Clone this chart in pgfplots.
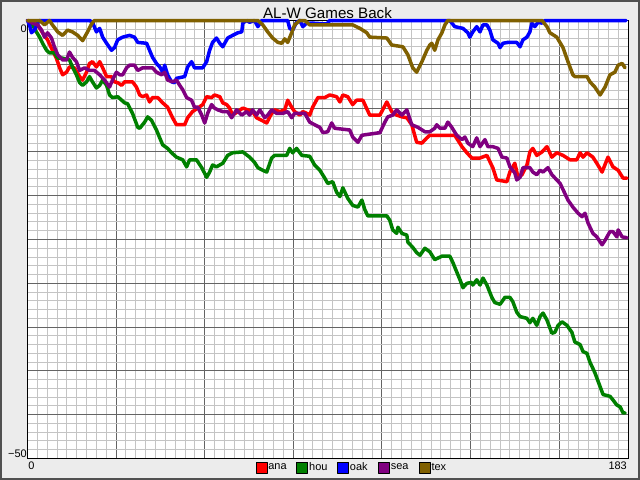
\documentclass[border=0pt]{standalone}
\usepackage{fontspec}
\setmainfont{Liberation Sans}
\usepackage{pgfplots}
\pgfplotsset{compat=1.18}
\definecolor{bgc}{RGB}{236,236,236}
\definecolor{frm}{RGB}{80,80,80}
\definecolor{majg}{RGB}{100,100,100}
\definecolor{ming}{RGB}{196,196,196}
\definecolor{cana}{RGB}{255,0,0}
\definecolor{chou}{RGB}{0,128,0}
\definecolor{coak}{RGB}{0,0,255}
\definecolor{csea}{RGB}{128,0,128}
\definecolor{ctex}{RGB}{128,96,0}
\pgfplotsset{sq/.style={legend image code/.code={\filldraw[fill=#1,draw=black,line width=0.8bp] (0bp,-5.5bp) rectangle (11bp,5.5bp);}}}
\begin{document}
\begin{tikzpicture}
\fill[bgc] (-27.5bp,-21.5bp) rectangle (612.5bp,458.5bp);
\draw[frm,line width=2bp] (-26.5bp,-20.5bp) rectangle (611.5bp,457.5bp);
\begin{axis}[
 at={(0,0)}, anchor=south west,
 scale only axis, width=600.5bp, height=438bp,
 xmin=0, xmax=183, ymin=-50, ymax=0,
 axis background/.style={fill=white},
 xtick={27,54,...,162}, ytick={-45,-40,...,-5},
 minor xtick={3,6,...,180}, minor ytick={-49,-48,...,-1},
 xticklabels={}, yticklabels={},
 major tick length=0pt, minor tick length=0pt,
 grid=both,
 major grid style={majg, line width=1bp},
 minor grid style={ming, line width=1bp},
 axis line style={black, line width=1bp},
 clip=false,
 legend columns=5,
 legend style={draw=none, fill=none, at={(rel axis cs:0.3795,-0.0205)}, anchor=west,
   font=\fontsize{11}{13}\selectfont, inner sep=0pt,
   nodes={inner sep=1bp},
   /tikz/every even column/.append style={column sep=0bp}},
 every axis plot/.append style={line width=3.5bp, line join=round, line cap=round},
]
\addplot[cana, sq=cana] coordinates {
(0,0)(1.5,-0.3)(3.1,-0.5)(4.6,-1.4)(6.1,-2.2)(7.6,-3.4)(8.8,-4.3)(9.8,-5.4)(10.7,-6.2)(11.9,-5.9)(12.8,-5.3)(14.3,-5.4)(15.9,-6.4)(16.8,-6.8)(18.0,-5.9)(18.9,-4.9)(19.8,-4.7)(21.0,-5.3)(22.0,-4.7)(22.9,-5.4)(24.1,-6.4)(25.6,-6.4)(26.5,-7.0)(27.5,-7.1)(28.7,-7.4)(29.6,-7.0)(32.0,-7.0)(33.2,-7.6)(34.2,-8.5)(35.1,-8.7)(36.3,-8.5)(37.2,-9.3)(38.1,-8.8)(39.7,-8.8)(41.2,-9.4)(42.7,-9.9)(44.2,-11.1)(45.4,-11.9)(47.9,-11.9)(48.8,-11.1)(50.3,-10.4)(51.9,-10.0)(53.4,-9.6)(54.6,-8.7)(56.1,-8.8)(57.0,-8.5)(58.6,-8.7)(59.5,-9.4)(60.7,-9.6)(61.6,-10.0)(62.5,-10.8)(64.1,-10.4)(65.6,-10.0)(67.1,-10.2)(68.6,-10.4)(69.8,-11.1)(71.4,-11.4)(72.9,-11.7)(74.4,-10.6)(75.3,-10.2)(76.9,-10.4)(78.4,-10.2)(79.3,-9.1)(80.5,-9.9)(81.4,-10.4)(83.0,-10.8)(83.9,-10.4)(85.1,-10.6)(86.0,-10.8)(86.9,-9.9)(88.5,-8.8)(90.6,-8.8)(92.1,-8.5)(94.2,-8.7)(95.2,-9.3)(96.1,-8.5)(97.6,-8.7)(99.1,-9.6)(100.3,-9.1)(102.2,-9.1)(104.3,-10.8)(107.4,-10.8)(109.5,-9.3)(111.0,-10.4)(112.5,-10.8)(114.1,-11.0)(115.6,-11.1)(117.1,-11.9)(118.6,-13.9)(120.2,-14.0)(121.7,-13.4)(122.6,-13.1)(130.2,-13.1)(132.4,-14.4)(133.9,-15.1)(135.4,-15.7)(137.9,-15.7)(140.0,-15.4)(141.8,-16.8)(143.0,-18.2)(146.1,-18.4)(147.0,-17.3)(148.5,-16.3)(149.5,-17.9)(150.7,-17.6)(152.2,-16.5)(153.1,-15.0)(154.0,-14.6)(155.2,-15.4)(156.8,-15.0)(158.3,-14.4)(159.8,-15.6)(161.3,-15.1)(163.2,-15.4)(165.3,-15.9)(167.4,-15.9)(168.4,-15.1)(169.3,-15.6)(170.5,-15.1)(172.3,-15.6)(173.5,-16.3)(175.1,-17.3)(176.9,-15.6)(178.4,-16.7)(180.0,-17.1)(181.5,-18.0)(182.7,-18.0)
};
\addlegendentry{\makebox[27bp][l]{ana}}
\addplot[chou, sq=chou] coordinates {
(0,0)(1.5,-0.5)(2.7,-1.3)(3.7,-1.9)(4.6,-2.6)(5.8,-3.4)(6.7,-3.7)(8.2,-3.7)(9.2,-4.3)(10.7,-4.3)(12.8,-4.5)(13.7,-5.3)(14.9,-6.2)(15.9,-7.1)(16.8,-7.4)(18.0,-7.0)(18.9,-6.4)(19.8,-7.0)(21.0,-7.7)(22.0,-7.4)(22.9,-6.8)(24.1,-7.4)(25.0,-8.5)(25.9,-8.8)(27.5,-8.7)(28.7,-9.1)(29.6,-9.4)(30.5,-9.5)(32.0,-10.6)(33.6,-12.2)(34.2,-12.3)(35.7,-11.6)(36.6,-11.0)(37.8,-11.4)(39.3,-12.5)(40.3,-13.4)(41.2,-14.2)(42.7,-14.6)(43.9,-15.1)(45.4,-15.6)(47.3,-15.9)(48.5,-16.7)(49.4,-15.9)(51.5,-15.9)(53.1,-16.8)(54.6,-17.9)(55.5,-17.3)(56.4,-16.5)(57.6,-16.7)(59.5,-16.3)(61.0,-15.4)(62.5,-15.1)(65.6,-15.0)(67.7,-15.6)(69.2,-16.2)(70.2,-16.8)(71.7,-17.1)(72.9,-17.3)(74.4,-15.7)(75.3,-15.4)(79.0,-15.4)(79.9,-14.6)(80.8,-15.1)(82.0,-14.6)(83.6,-15.4)(86.0,-15.5)(87.5,-16.5)(89.1,-17.1)(90.6,-18.0)(91.5,-18.6)(93.0,-18.4)(94.2,-19.6)(95.2,-20.1)(96.1,-19.1)(97.6,-20.3)(99.1,-21.1)(100.7,-21.3)(101.9,-20.5)(102.8,-21.6)(103.7,-22.3)(109.5,-22.3)(110.4,-22.8)(111.3,-23.9)(112.5,-24.3)(112.9,-23.6)(114.1,-24.3)(115.6,-24.5)(115.9,-25.3)(117.4,-25.9)(118.6,-26.5)(119.6,-26.8)(121.1,-26.0)(122.6,-26.4)(124.1,-27.3)(126.3,-26.9)(128.7,-26.9)(129.6,-27.6)(130.8,-28.7)(131.8,-29.6)(132.7,-30.5)(133.9,-30.0)(135.4,-29.9)(135.7,-30.2)(136.9,-29.6)(137.9,-30.2)(138.8,-29.4)(140.0,-30.2)(141.5,-31.6)(142.4,-32.2)(144.0,-32.4)(145.5,-31.6)(147.0,-31.6)(147.9,-32.1)(149.1,-33.3)(150.1,-33.8)(152.2,-34.0)(153.1,-34.5)(154.0,-34.0)(155.2,-34.8)(156.2,-33.8)(157.1,-33.4)(158.3,-34.2)(159.8,-35.7)(160.7,-35.6)(161.7,-34.8)(162.9,-34.4)(164.4,-34.8)(165.9,-35.6)(166.8,-36.7)(168.4,-37.0)(169.3,-37.8)(170.5,-38.0)(171.4,-39.0)(172.9,-40.2)(174.5,-41.8)(175.4,-42.7)(177.5,-42.9)(178.4,-43.3)(179.6,-43.9)(180.6,-44.1)(181.5,-44.8)(182.1,-44.8)
};
\addlegendentry{\makebox[27bp][l]{hou}}
\addplot[coak, sq=coak] coordinates {
(0,0)(0.6,-0.5)(1.2,-1.4)(2.1,-1.1)(3.1,-0.3)(3.7,0)(18.9,0)(19.8,-0.2)(21.0,-1.3)(22.0,-0.9)(22.9,-1.9)(24.1,-2.6)(25.6,-3.4)(26.5,-3.1)(27.5,-2.2)(29.0,-1.9)(31.1,-1.7)(32.6,-1.9)(33.6,-2.5)(36.3,-2.6)(37.2,-3.4)(38.1,-4.2)(39.3,-4.9)(40.3,-5.3)(41.2,-5.9)(41.8,-5.1)(42.7,-6.2)(43.9,-7.0)(44.8,-7.1)(45.4,-6.6)(47.9,-6.4)(48.8,-5.3)(50.0,-4.7)(50.9,-5.4)(53.4,-5.4)(54.6,-4.7)(55.5,-3.4)(56.4,-2.5)(57.6,-2.0)(58.6,-2.6)(59.5,-3.0)(61.0,-2.0)(62.5,-1.7)(64.1,-1.4)(65.3,-1.3)(65.6,-0.3)(66.8,0)(67.7,-0.2)(69.2,0)(70.2,-0.7)(71.4,0)(79.3,0)(79.9,-0.9)(80.8,-1.1)(82.0,-0.2)(83.0,0)(83.9,-0.7)(85.1,-0.3)(86.9,-0.3)(91.2,-0.4)(92.1,0)(128.7,0)(130.2,-0.7)(132.7,-0.9)(134.2,-1.4)(134.8,-1.9)(135.7,-1.3)(136.9,-0.7)(137.9,-1.3)(138.8,-0.5)(140.0,-0.5)(140.9,-1.1)(141.8,-2.2)(143.4,-2.6)(144.0,-3.1)(144.9,-2.6)(146.4,-2.5)(149.1,-2.5)(150.1,-3.0)(151.0,-2.2)(152.2,-1.9)(153.1,-1.3)(153.7,-0.3)(154.6,-0.7)(155.6,-0.2)(156.8,-0.3)(157.7,0)(182.4,0)
};
\addlegendentry{\makebox[27bp][l]{oak}}
\addplot[csea, sq=csea] coordinates {
(0,0)(1.5,-0.3)(3.1,-0.5)(4.3,-1.1)(5.2,-1.9)(6.1,-1.4)(7.3,-2.0)(8.2,-3.0)(9.2,-3.9)(10.7,-4.5)(11.9,-4.5)(12.8,-3.6)(13.7,-4.2)(14.9,-4.7)(15.9,-5.7)(17.4,-5.4)(18.9,-5.7)(20.4,-5.7)(22.0,-6.2)(23.5,-6.8)(25.0,-7.6)(25.9,-6.8)(27.1,-5.9)(28.1,-6.2)(29.0,-6.2)(30.2,-5.4)(31.1,-5.1)(32.6,-5.1)(33.6,-5.7)(35.1,-5.4)(38.1,-5.4)(39.3,-5.9)(40.9,-6.2)(41.8,-5.9)(42.7,-6.8)(44.2,-7.0)(45.4,-6.8)(46.4,-7.4)(47.3,-7.9)(48.5,-8.8)(50.0,-9.1)(50.9,-9.9)(51.9,-9.9)(53.1,-10.8)(54.0,-11.7)(54.9,-10.6)(56.1,-9.6)(57.0,-10.0)(58.0,-10.2)(59.5,-10.4)(61.0,-10.4)(62.2,-11.1)(63.7,-10.2)(65.3,-10.8)(66.8,-10.4)(67.7,-10.8)(68.6,-10.2)(69.8,-10.8)(70.8,-10.2)(72.3,-11.1)(73.2,-10.8)(74.4,-10.2)(75.9,-10.6)(77.8,-10.6)(79.3,-10.4)(80.5,-11.1)(81.4,-10.6)(84.5,-10.6)(86.0,-11.6)(87.5,-11.9)(89.1,-12.2)(90.0,-12.8)(91.5,-12.7)(92.7,-11.7)(93.6,-12.3)(98.2,-12.5)(99.1,-13.3)(100.7,-13.9)(101.9,-13.1)(107.4,-12.8)(108.9,-11.6)(109.8,-11.0)(111.3,-10.8)(112.5,-10.2)(114.1,-10.8)(115.6,-10.2)(117.1,-11.9)(119.0,-12.2)(121.1,-12.7)(122.6,-12.7)(124.1,-12.3)(124.7,-11.9)(125.7,-12.3)(127.2,-12.3)(128.1,-11.6)(129.3,-12.2)(130.8,-13.1)(132.4,-13.6)(133.3,-13.3)(134.2,-14.0)(135.7,-14.4)(136.9,-13.4)(137.9,-14.4)(139.4,-13.6)(140.3,-14.4)(141.8,-14.4)(143.4,-14.6)(144.6,-15.6)(146.1,-15.7)(147.0,-16.7)(148.5,-17.4)(149.1,-18.2)(150.1,-17.9)(151.0,-16.8)(153.1,-16.8)(154.0,-17.3)(155.2,-17.6)(156.2,-17.1)(157.1,-17.3)(158.6,-16.8)(159.8,-17.6)(161.3,-18.2)(162.3,-18.6)(163.2,-19.3)(164.7,-20.5)(166.2,-21.3)(167.8,-22.0)(169.0,-22.4)(169.9,-22.0)(170.8,-23.1)(172.3,-24.3)(173.5,-24.7)(175.1,-25.6)(176.0,-25.1)(177.5,-24.1)(178.4,-24.1)(179.6,-24.7)(180.0,-23.9)(181.2,-24.7)(182.7,-24.8)
};
\addlegendentry{\makebox[27bp][l]{sea}}
\addplot[ctex, sq=ctex] coordinates {
(0,0)(3.7,0)(5.2,-0.5)(6.7,0)(7.6,-0.5)(9.2,-1.3)(10.7,-1.7)(12.2,-1.1)(13.7,-1.3)(15.3,-1.7)(16.8,-2.3)(18.3,-1.3)(19.5,-0.4)(20.4,0)(70.2,0)(71.7,-0.5)(73.2,-1.3)(74.7,-2.0)(76.3,-2.5)(77.5,-2.6)(78.4,-2.1)(79.3,-2.5)(80.5,-1.4)(81.4,-0.5)(83.0,0)(84.5,0)(86.0,-0.5)(99.1,-0.5)(101.3,-0.9)(103.4,-1.4)(104.3,-1.9)(109.5,-2.0)(111.0,-2.8)(114.4,-3.0)(115.9,-3.9)(117.4,-5.4)(118.6,-5.9)(120.2,-4.7)(121.7,-3.4)(122.6,-2.8)(123.2,-2.6)(124.1,-3.4)(125.1,-2.2)(126.3,-1.4)(127.2,-0.5)(128.1,0)(156.8,0)(158.3,-0.7)(159.2,-1.4)(161.3,-1.9)(163.2,-3.1)(164.7,-4.7)(166.2,-6.2)(166.8,-6.4)(170.5,-6.4)(171.4,-7.0)(172.9,-7.6)(174.5,-8.5)(176.0,-7.6)(177.5,-6.2)(179.0,-5.9)(180.0,-5.1)(181.2,-4.9)(182.1,-5.4)
};
\addlegendentry{\makebox[27bp][l]{tex}}
\node[anchor=base, inner sep=0pt, font=\fontsize{15.2}{18}\selectfont] at ([yshift=2.5bp]rel axis cs:0.4996,1) {AL-W Games Back};
\node[anchor=base east, inner sep=0pt, font=\fontsize{11}{13}\selectfont] at ([xshift=-0.5bp,yshift=-11.5bp]rel axis cs:0,1) {0};
\node[anchor=base east, inner sep=0pt, font=\fontsize{11}{13}\selectfont] at ([xshift=-0.5bp,yshift=1.5bp]rel axis cs:0,0) {\symbol{"2212}50};
\node[anchor=base west, inner sep=0pt, font=\fontsize{11}{13}\selectfont] at ([xshift=0.8bp,yshift=-10.5bp]rel axis cs:0,0) {0};
\node[anchor=base east, inner sep=0pt, font=\fontsize{11}{13}\selectfont] at ([xshift=-1bp,yshift=-10.5bp]rel axis cs:1,0) {183};
\end{axis}
\end{tikzpicture}
\end{document}
